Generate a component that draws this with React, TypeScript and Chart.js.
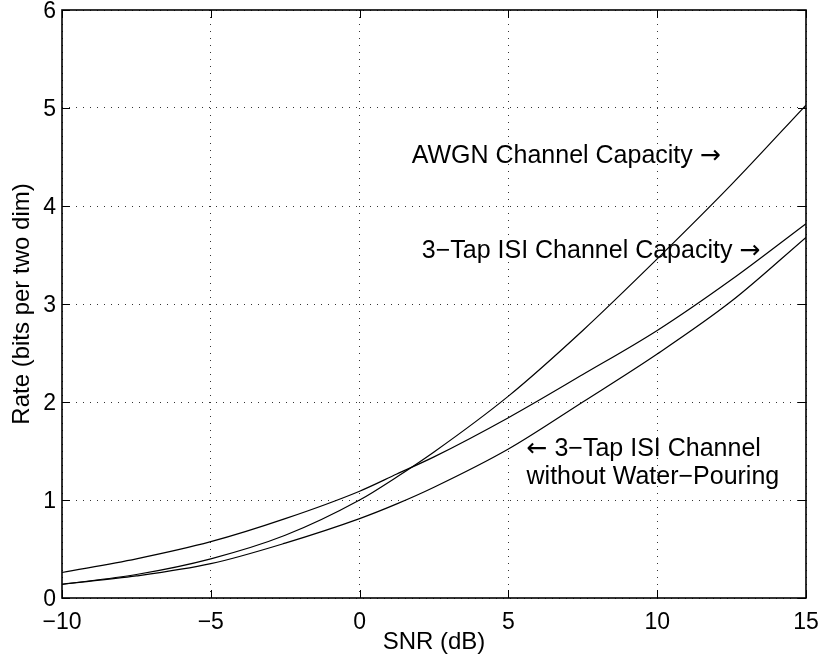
import React, { useEffect, useRef } from 'react';
import { Chart, registerables } from 'chart.js';

Chart.register(...registerables);

// SNR sample points (dB)
const snrDb = [-10, -7.5, -5, -2.5, 0, 1.25, 2.5, 5, 7.5, 10, 12.5, 15];
// Rates in bits per two dimensions
const awgnCapacity = [0.14, 0.24, 0.4, 0.64, 1.0, 1.235, 1.49, 2.06, 2.73, 3.46, 4.22, 5.03];
const isiWaterPouring = [0.26, 0.4, 0.575, 0.81, 1.09, 1.265, 1.44, 1.84, 2.28, 2.73, 3.25, 3.82];
const isiNoWaterPouring = [0.14, 0.225, 0.35, 0.56, 0.81, 0.96, 1.13, 1.52, 2.0, 2.49, 3.03, 3.68];

const xTickValues = [-10, -5, 0, 5, 10, 15];
const xTickLabels = ['\u221210', '\u22125', '0', '5', '10', '15'];
const yTickValues = [0, 1, 2, 3, 4, 5, 6];
const yTickLabels = ['0', '1', '2', '3', '4', '5', '6'];

const xTitle = 'SNR (dB)';
const yTitle = 'Rate (bits per two dim)';

// Curve annotations, anchored in data coordinates (dB, rate) at the left end of the baseline
const annotations = [
  { text: 'AWGN Channel Capacity', arrow: 'right', x: 1.75, y: 4.435 },
  { text: '3\u2212Tap ISI Channel Capacity', arrow: 'right', x: 2.09, y: 3.466 },
  { text: '3\u2212Tap ISI Channel', arrow: 'left', x: 5.61, y: 1.452 },
  { text: 'without Water\u2212Pouring', arrow: '', x: 5.61, y: 1.163 },
];

const FONT = '"Liberation Sans", Arial, Helvetica, sans-serif';
const ARROW_FONT = '"DejaVu Sans", sans-serif';

const toPoints = (ys: number[]) => snrDb.map((x, i) => ({ x, y: ys[i] }));

const framePlugin = {
  id: 'frameAndNotes',
  afterDatasetsDraw(chart: any) {
    const { ctx, chartArea, scales } = chart;
    const { left, right, top, bottom } = chartArea;
    const xs = scales.x;
    const ys = scales.y;
    ctx.save();
    ctx.strokeStyle = '#000';
    ctx.lineWidth = 1.6;
    ctx.strokeRect(left, top, right - left, bottom - top);
    ctx.lineWidth = 1;
    const len = 8;
    ctx.beginPath();
    xTickValues.forEach((v) => {
      const px = Math.round(xs.getPixelForValue(v)) + 0.5;
      ctx.moveTo(px, bottom);
      ctx.lineTo(px, bottom - len);
      ctx.moveTo(px, top);
      ctx.lineTo(px, top + len);
    });
    yTickValues.forEach((v) => {
      const py = Math.round(ys.getPixelForValue(v)) + 0.5;
      ctx.moveTo(left, py);
      ctx.lineTo(left + len, py);
      ctx.moveTo(right, py);
      ctx.lineTo(right - len, py);
    });
    ctx.stroke();

    ctx.fillStyle = '#000';
    ctx.textAlign = 'left';
    ctx.textBaseline = 'alphabetic';
    const textFont = `25px ${FONT}`;
    const arrowFont = `25px ${ARROW_FONT}`;
    annotations.forEach((a) => {
      let px = xs.getPixelForValue(a.x);
      const py = ys.getPixelForValue(a.y);
      if (a.arrow === 'left') {
        ctx.font = arrowFont;
        ctx.fillText('\u2190', px, py);
        px += ctx.measureText('\u2190').width;
        ctx.font = textFont;
        px += ctx.measureText(' ').width;
        ctx.fillText(a.text, px, py);
      } else {
        ctx.font = textFont;
        ctx.fillText(a.text, px, py);
        if (a.arrow === 'right') {
          px += ctx.measureText(a.text + ' ').width;
          ctx.font = arrowFont;
          ctx.fillText('\u2192', px, py);
        }
      }
    });
    ctx.restore();
  },
};

export default function App() {
  const canvasRef = useRef<HTMLCanvasElement | null>(null);

  useEffect(() => {
    const canvas = canvasRef.current;
    if (!canvas) return;
    const lineStyle = {
      borderColor: '#000',
      borderWidth: 1.2,
      pointRadius: 0,
      fill: false,
      cubicInterpolationMode: 'monotone' as const,
    };
    const chart = new Chart(canvas, {
      type: 'line',
      data: {
        datasets: [
          { label: 'AWGN Channel Capacity', data: toPoints(awgnCapacity), ...lineStyle },
          { label: '3-Tap ISI Channel Capacity', data: toPoints(isiWaterPouring), ...lineStyle },
          { label: '3-Tap ISI Channel without Water-Pouring', data: toPoints(isiNoWaterPouring), ...lineStyle },
        ],
      },
      options: {
        responsive: false,
        animation: false,
        layout: { padding: { top: 10, right: 17, left: 0, bottom: 0 } },
        plugins: {
          legend: { display: false },
          tooltip: { enabled: false },
        },
        scales: {
          x: {
            type: 'linear',
            min: -10,
            max: 15,
            afterBuildTicks: (scale: any) => {
              scale.ticks = xTickValues.map((value) => ({ value }));
            },
            afterFit: (scale: any) => {
              scale.height = 61;
              scale.paddingLeft = 0;
              scale.paddingRight = 0;
            },
            ticks: {
              color: '#000',
              padding: 13,
              maxRotation: 0,
              font: { family: FONT, size: 23, lineHeight: 1 },
              callback: (value: any) => xTickLabels[xTickValues.indexOf(Number(value))] ?? '',
            },
            grid: { color: '#333', lineWidth: 1, drawTicks: false },
            border: { display: false, dash: [1, 6] },
            title: {
              display: true,
              text: xTitle,
              color: '#000',
              font: { family: FONT, size: 24, lineHeight: 1.2 },
              padding: { top: 0, bottom: 2 },
            },
          },
          y: {
            type: 'linear',
            min: 0,
            max: 6,
            afterBuildTicks: (scale: any) => {
              scale.ticks = yTickValues.map((value) => ({ value }));
            },
            afterFit: (scale: any) => {
              scale.width = 62;
              scale.paddingTop = 0;
              scale.paddingBottom = 0;
            },
            ticks: {
              color: '#000',
              padding: 6,
              labelOffset: 2,
              font: { family: FONT, size: 23, lineHeight: 1 },
              callback: (value: any) => yTickLabels[yTickValues.indexOf(Number(value))] ?? '',
            },
            grid: { color: '#333', lineWidth: 1, drawTicks: false },
            border: { display: false, dash: [1, 6] },
            title: {
              display: true,
              text: yTitle,
              color: '#000',
              font: { family: FONT, size: 24, lineHeight: 1.2 },
              padding: { top: 8, bottom: 0 },
            },
          },
        },
      },
      plugins: [framePlugin],
    });
    return () => chart.destroy();
  }, []);

  return (
    <div style={{ position: 'fixed', left: 0, top: 0, width: 823, height: 659, background: '#fff' }}>
      <canvas ref={canvasRef} width={823} height={659} />
    </div>
  );
}
